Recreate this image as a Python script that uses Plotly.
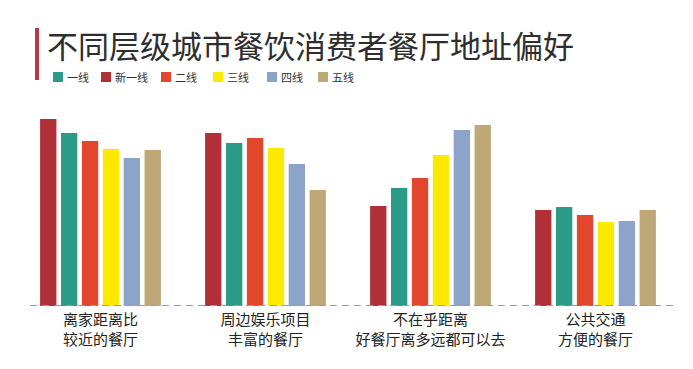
import plotly.graph_objects as go

categories = ["离家距离比<br>较近的餐厅", "周边娱乐项目<br>丰富的餐厅", "不在乎距离<br>好餐厅离多远都可以去", "公共交通<br>方便的餐厅"]
series_names = ["新一线", "一线", "二线", "三线", "四线", "五线"]
legend_order = ["一线", "新一线", "二线", "三线", "四线", "五线"]
values = {
    "新一线": [187, 173, 100, 96],
    "一线":   [173, 163, 118, 99],
    "二线":   [165, 168, 128, 91],
    "三线":   [157, 158, 151, 84],
    "四线":   [148, 142, 176, 85],
    "五线":   [156, 116, 181, 96],
}
colors = {
    "新一线": "#b12f36",
    "一线": "#2b9a86",
    "二线": "#e2462c",
    "三线": "#fdea00",
    "四线": "#8ca4c9",
    "五线": "#bea878",
}

OFF = 8  # browser body margin
W, H = 693 - OFF, 369 - OFF
ml, mr, mt, mb = 10, 15, 98, 63
pw, ph = W - ml - mr, H - mt - mb

def px(x):  # screen x -> paper
    return (x - OFF - ml) / pw

def py(y):  # screen y -> paper
    return (H - mb - (y - OFF)) / ph

fig = go.Figure()
for name in series_names:
    fig.add_trace(go.Bar(
        x=categories, y=values[name], name=name,
        marker=dict(color=colors[name], line=dict(width=0)),
        showlegend=False,
    ))

# baseline dashed line
fig.add_shape(type="line", xref="paper", yref="y", x0=px(30), x1=px(676), y0=0, y1=0,
              line=dict(color="#9a9a9a", width=1.8, dash="7px,5px"), layer="above")
# red accent bar beside title
fig.add_shape(type="rect", xref="paper", yref="paper", x0=px(35), x1=px(39), y0=py(80), y1=py(28),
              fillcolor="#b33a47", line=dict(width=0))

# legend (custom, to match the compact original)
legend_sq_x = [53, 101, 161, 213, 267, 318]
for name, sx in zip(legend_order, legend_sq_x):
    fig.add_shape(type="rect", xref="paper", yref="paper",
                  x0=px(sx), x1=px(sx + 10), y0=py(82), y1=py(72),
                  fillcolor=colors[name], line=dict(width=0))
    fig.add_annotation(text=name, xref="paper", yref="paper", x=px(sx + 12), y=py(77),
                       xanchor="left", yanchor="middle", showarrow=False,
                       font=dict(size=11, color="#333333"))

fig.update_layout(
    width=W, height=H,
    margin=dict(l=ml, r=mr, t=mt, b=mb),
    paper_bgcolor="#ffffff", plot_bgcolor="#ffffff",
    barmode="group", bargap=0.24, bargroupgap=0.22,
    font=dict(family="Noto Sans CJK SC", color="#222222"),
    title=dict(text="不同层级城市餐饮消费者餐厅地址偏好", xref="container", yref="container",
               x=(47 - OFF) / W, xanchor="left", y=1 - (47 - OFF) / H, yanchor="middle",
               font=dict(size=31, color="#2e2e2e")),
    showlegend=False,
    xaxis=dict(showgrid=False, showline=False, zeroline=False, ticks="",
               tickfont=dict(size=15, color="#222222"), ticklabelstandoff=3, fixedrange=True),
    yaxis=dict(range=[0, ph], visible=False, fixedrange=True),
)

fig.write_html("out.html")
